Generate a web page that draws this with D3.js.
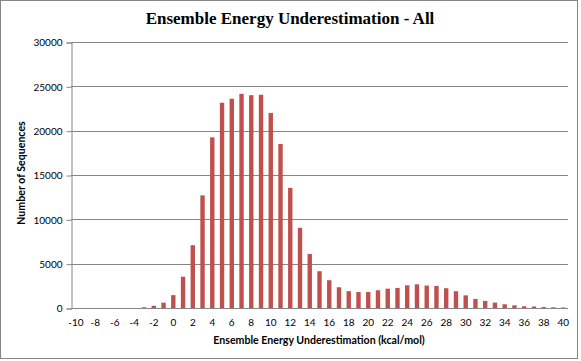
<!DOCTYPE html>
<html>
<head>
<meta charset="utf-8">
<script src="https://cdn.jsdelivr.net/npm/d3@7"></script>
<style>
  body { margin: 0; background: #fff; }
  svg { display: block; }
</style>
</head>
<body>
<svg id="chart" width="581" height="361"></svg>
<script>
// energy bins (kcal/mol), one bar per integer
const bins = d3.range(-10, 41);
// number of sequences per bin
const counts = [
  0, 0, 0, 0, 0, 0, 0, 80, 250, 600,
  1450, 3530, 7080, 12700, 19250, 23150, 23600, 24150, 24000, 24050,
  22000, 18500, 13550, 9050, 6100, 4150, 3130, 2340, 1900, 1800,
  1800, 2000, 2180, 2260, 2560, 2670, 2530, 2490, 2230, 1890,
  1430, 1020, 800, 610, 420, 300, 200, 170, 110, 80,
  60
];
const yTicks = [0, 5000, 10000, 15000, 20000, 25000, 30000];
const xLabels = d3.range(-10, 41, 2);

const svg = d3.select("#chart");
const margin = { top: 42, right: 13, bottom: 53, left: 71 };
const width = 581, height = 361;
const sans = "Lato, 'Open Sans', sans-serif";

// chart frame
svg.append("rect")
  .attr("x", 0.5).attr("y", 0.5)
  .attr("width", 577).attr("height", 358)
  .attr("fill", "#fff")
  .attr("stroke", "#868686");

const x = d3.scaleBand()
  .domain(bins)
  .range([margin.left, width - margin.right])
  .paddingInner(0.55)
  .paddingOuter(0.27);

const y = d3.scaleLinear()
  .domain([0, 30000])
  .range([height - margin.bottom, margin.top]);

// gridlines
svg.append("g")
  .selectAll("line")
  .data(yTicks.slice(1))
  .join("line")
  .attr("x1", margin.left).attr("x2", width - margin.right)
  .attr("y1", d => Math.round(y(d)) + 0.5).attr("y2", d => Math.round(y(d)) + 0.5)
  .attr("stroke", "#868686");

// y axis
const yAxis = svg.append("g")
  .attr("transform", `translate(${margin.left + 0.5},0.5)`)
  .call(d3.axisLeft(y).tickValues(yTicks).tickSize(5).tickPadding(4).tickFormat(d3.format("d")));
yAxis.select(".domain").attr("stroke", "#868686");
yAxis.selectAll(".tick line").attr("stroke", "#868686");
yAxis.selectAll("text")
  .attr("font-family", sans)
  .attr("font-size", 10)
  .attr("fill", "#000");

// bars
svg.append("g")
  .selectAll("rect")
  .data(bins)
  .join("rect")
  .attr("x", d => x(d))
  .attr("width", x.bandwidth())
  .attr("y", (d, i) => y(counts[i]))
  .attr("height", (d, i) => y(0) - y(counts[i]))
  .attr("fill", "#C0504D");

// x axis
const xAxis = svg.append("g")
  .attr("transform", `translate(0,${Math.round(y(0)) + 0.5})`)
  .call(d3.axisBottom(x).tickValues(xLabels).tickSize(0).tickPadding(10));
xAxis.select(".domain").attr("stroke", "#868686").attr("d", `M${margin.left},0H${width - margin.right}`);
xAxis.selectAll("text")
  .attr("font-family", sans)
  .attr("font-size", 10)
  .attr("fill", "#000");

// title
svg.append("text")
  .attr("x", 290).attr("y", 24)
  .attr("text-anchor", "middle")
  .attr("font-family", "'Liberation Serif', serif")
  .attr("font-weight", "bold")
  .attr("font-size", 17)
  .text("Ensemble Energy Underestimation - All");

// axis titles
svg.append("text")
  .attr("x", 319).attr("y", 344)
  .attr("text-anchor", "middle")
  .attr("font-family", sans)
  .attr("font-weight", "bold")
  .attr("font-size", 10.6)
  .text("Ensemble Energy Underestimation (kcal/mol)");

svg.append("text")
  .attr("transform", "translate(25,173) rotate(-90)")
  .attr("text-anchor", "middle")
  .attr("font-family", sans)
  .attr("font-weight", "bold")
  .attr("font-size", 10.6)
  .text("Number of Sequences");
</script>
</body>
</html>
